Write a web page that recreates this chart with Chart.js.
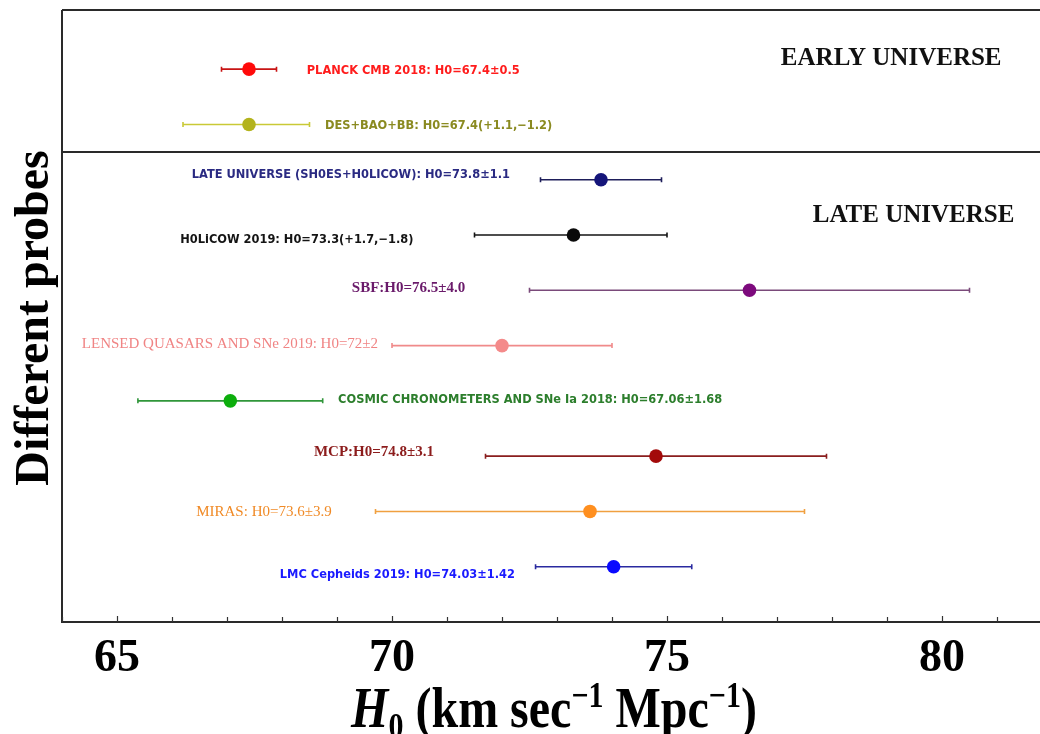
<!DOCTYPE html>
<html>
<head>
<meta charset="utf-8">
<title>H0 measurements from different probes</title>
<script src="https://cdn.jsdelivr.net/npm/chart.js@4.4.1/dist/chart.umd.min.js"></script>
<style>
  html, body { margin: 0; padding: 0; background: #fff; overflow: hidden; }
  #wrap { width: 1040px; height: 734px; overflow: hidden; }
  canvas { display: block; }
</style>
</head>
<body>
<div id="wrap"><canvas id="c" width="1060" height="734"></canvas></div>
<script>
// ---- measurements (top row first) ----
const probes = [
  "PLANCK CMB 2018: H0=67.4\u00b10.5",
  "DES+BAO+BB: H0=67.4(+1.1,\u22121.2)",
  "LATE UNIVERSE (SH0ES+H0LICOW): H0=73.8\u00b11.1",
  "H0LiCOW 2019: H0=73.3(+1.7,\u22121.8)",
  "SBF:H0=76.5\u00b14.0",
  "LENSED QUASARS AND SNe 2019: H0=72\u00b12",
  "COSMIC CHRONOMETERS AND SNe Ia 2018: H0=67.06\u00b11.68",
  "MCP:H0=74.8\u00b13.1",
  "MIRAS: H0=73.6\u00b13.9",
  "LMC Cepheids 2019: H0=74.03\u00b11.42"
];
const h0     = [67.4, 67.4, 73.8, 73.3, 76.5, 72.0, 67.06, 74.8, 73.6, 74.03];
const errHi  = [0.5,  1.1,  1.1,  1.7,  4.0,  2.0,  1.68,  3.1,  3.9,  1.42];
const errLo  = [0.5,  1.2,  1.1,  1.8,  4.0,  2.0,  1.68,  3.1,  3.9,  1.42];
const rows   = [10, 9, 8, 7, 6, 5, 4, 3, 2, 1];

// x-axis ticks
const xMajorTicks = [65, 70, 75, 80];
const xMinorTicks = [64, 65, 66, 67, 68, 69, 70, 71, 72, 73, 74, 75, 76, 77, 78, 79, 80, 81];

// region split between the early- and late-universe probes
const splitRow = 8.5;
const regionNames = ["EARLY UNIVERSE", "LATE UNIVERSE"];

// ---- styling ----
const dotColors  = ["#ff0a0a", "#b3b31c", "#15157a", "#0a0a0a", "#7d0a7d", "#f48a8a", "#0cae0c", "#a30a0a", "#ff8f1f", "#0a0aff"];
const barColors  = ["#c81414", "#c9c936", "#1e1e5a", "#151515", "#7a4a7a", "#f08a8a", "#30963a", "#8a1e1e", "#f0a040", "#2a2aa0"];
const textColors = ["#ff1c1c", "#8a8a20", "#2a2a82", "#141414", "#6a1a6a", "#f08484", "#2c7e2c", "#8c1c1c", "#f08a26", "#1a1aff"];
const SANS  = '"DejaVu Sans Condensed", "DejaVu Sans", sans-serif';
const SERIF = '"Liberation Serif", "DejaVu Serif", serif';
const labelFonts = [
  "bold 12.7px " + SANS, "bold 12.7px " + SANS, "bold 12.7px " + SANS, "bold 12.7px " + SANS,
  "bold 15px " + SERIF, "15px " + SERIF, "bold 12.7px " + SANS,
  "bold 15px " + SERIF, "15px " + SERIF, "bold 12.7px " + SANS
];
// label anchors: left edge in H0 units, vertical nudge in px
const labelX  = [68.45, 68.78, 66.36, 66.15, 69.27, 64.36, 69.02, 68.58, 66.44, 67.96];
const labelDy = [2, 1, -5, 5, -2, -2, -1, -4, 1, 8];
const regionX = [77.07, 77.65];
const regionY = [10.2, 7.36];

const framePlugin = {
  id: "probeDecor",
  beforeDatasetsDraw(chart) {
    const { ctx, scales: { x, y } } = chart;
    ctx.save();
    // error bars with small end caps
    for (let i = 0; i < h0.length; i++) {
      const px1 = x.getPixelForValue(h0[i] - errLo[i]);
      const px2 = x.getPixelForValue(h0[i] + errHi[i]);
      const py = y.getPixelForValue(rows[i]);
      ctx.strokeStyle = barColors[i];
      ctx.lineWidth = 1.6;
      ctx.beginPath();
      ctx.moveTo(px1, py); ctx.lineTo(px2, py);
      ctx.moveTo(px1, py - 2.5); ctx.lineTo(px1, py + 2.5);
      ctx.moveTo(px2, py - 2.5); ctx.lineTo(px2, py + 2.5);
      ctx.stroke();
    }
    ctx.restore();
  },
  afterDatasetsDraw(chart) {
    const { ctx, chartArea: a, scales: { x, y } } = chart;
    ctx.save();
    // frame
    ctx.strokeStyle = "#2a2a2a";
    ctx.lineWidth = 2;
    ctx.beginPath();
    ctx.moveTo(a.left, a.top); ctx.lineTo(a.right, a.top);
    ctx.moveTo(a.left, a.top); ctx.lineTo(a.left, a.bottom);
    ctx.moveTo(a.left - 1, a.bottom); ctx.lineTo(a.right, a.bottom);
    ctx.stroke();
    // split line
    const sy = y.getPixelForValue(splitRow);
    ctx.beginPath();
    ctx.moveTo(a.left, sy); ctx.lineTo(a.right, sy);
    ctx.stroke();
    // inward ticks on the bottom axis
    ctx.lineWidth = 1.2;
    ctx.strokeStyle = "#333";
    ctx.beginPath();
    xMinorTicks.forEach(v => {
      const px = Math.round(x.getPixelForValue(v)) + 0.5;
      const len = xMajorTicks.includes(v) ? 6 : 5;
      ctx.moveTo(px, a.bottom); ctx.lineTo(px, a.bottom - len);
    });
    ctx.stroke();
    // probe labels
    ctx.textBaseline = "middle";
    ctx.textAlign = "left";
    for (let i = 0; i < probes.length; i++) {
      ctx.font = labelFonts[i];
      ctx.fillStyle = textColors[i];
      ctx.fillText(probes[i], x.getPixelForValue(labelX[i]), y.getPixelForValue(rows[i]) + labelDy[i]);
    }
    // region names
    ctx.font = "bold 25px " + SERIF;
    ctx.fillStyle = "#111";
    regionNames.forEach((t, i) => ctx.fillText(t, x.getPixelForValue(regionX[i]), y.getPixelForValue(regionY[i])));

    // y-axis title
    ctx.save();
    ctx.translate(36, (a.top + a.bottom) / 2 + 2);
    ctx.rotate(-Math.PI / 2);
    ctx.textAlign = "center";
    ctx.font = "bold 48px " + SERIF;
    ctx.fillStyle = "#000";
    ctx.fillText("Different probes", 0, 0);
    ctx.restore();

    // x-axis title: H0 (km sec^-1 Mpc^-1)
    const fs = 48, small = 30;
    const parts = [
      { t: "H", f: "italic bold " + fs + "px " + SERIF, dy: 0 },
      { t: "0", f: "bold " + small + "px " + SERIF, dy: 9 },
      { t: " (km sec", f: "bold " + fs + "px " + SERIF, dy: 0 },
      { t: "\u22121", f: "bold " + small + "px " + SERIF, dy: -17 },
      { t: " Mpc", f: "bold " + fs + "px " + SERIF, dy: 0 },
      { t: "\u22121", f: "bold " + small + "px " + SERIF, dy: -17 },
      { t: ")", f: "bold " + fs + "px " + SERIF, dy: 0 }
    ];
    let total = 0;
    parts.forEach(p => { ctx.font = p.f; p.w = ctx.measureText(p.t).width; total += p.w; });
    let cx = x.getPixelForValue(73) - total / 2 - 3;
    ctx.translate(0, 727);
    ctx.scale(1, 1.2);
    ctx.textBaseline = "alphabetic";
    ctx.textAlign = "left";
    ctx.fillStyle = "#000";
    parts.forEach(p => { ctx.font = p.f; ctx.fillText(p.t, cx, p.dy); cx += p.w; });
    ctx.restore();
  }
};

new Chart(document.getElementById("c"), {
  type: "scatter",
  data: {
    datasets: [{
      data: h0.map((v, i) => ({ x: v, y: rows[i] })),
      pointBackgroundColor: dotColors,
      pointBorderWidth: 0,
      pointRadius: 6.8,
      pointHoverRadius: 6.8
    }]
  },
  options: {
    responsive: false,
    animation: false,
    devicePixelRatio: 1,
    layout: { padding: { top: 10, right: 8, left: 0, bottom: 0 } },
    plugins: { legend: { display: false }, tooltip: { enabled: false } },
    scales: {
      x: {
        type: "linear",
        min: 64, max: 82,
        afterBuildTicks: s => { s.ticks = xMajorTicks.map(v => ({ value: v })); },
        afterFit: s => { s.height = 112; },
        grid: { display: false, drawTicks: false },
        border: { display: false },
        ticks: {
          autoSkip: false, maxRotation: 0,
          padding: 10,
          color: "#000",
          font: { family: SERIF, size: 46, weight: "bold" }
        }
      },
      y: {
        type: "linear",
        min: 0, max: 11.07,
        afterFit: s => { s.width = 62; },
        grid: { display: false, drawTicks: false },
        border: { display: false },
        ticks: { display: false }
      }
    }
  },
  plugins: [framePlugin]
});
</script>
</body>
</html>
